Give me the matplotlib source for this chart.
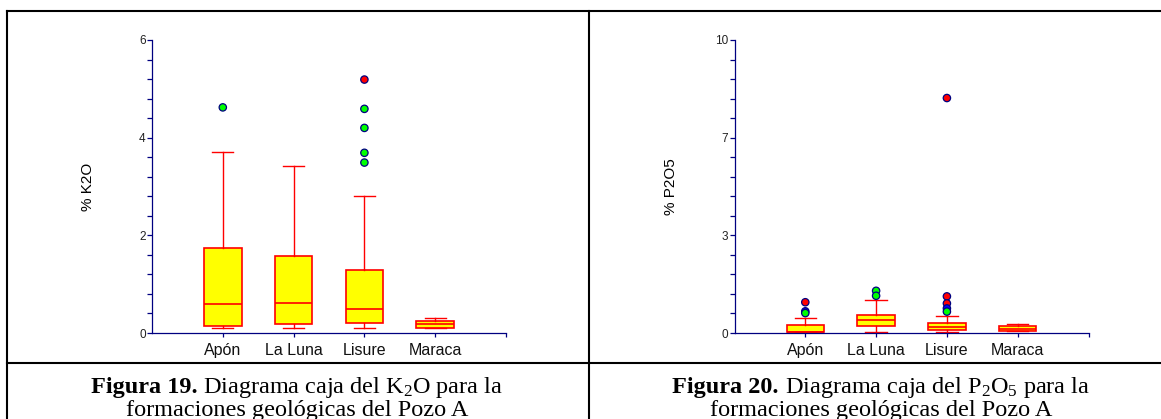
import numpy as np
import matplotlib
matplotlib.use('Agg')
import matplotlib.pyplot as plt
from matplotlib.lines import Line2D
from matplotlib.ticker import FixedLocator, FixedFormatter, MultipleLocator

plt.rcParams['font.family'] = ['Liberation Sans', 'DejaVu Sans']
plt.rcParams['mathtext.fontset'] = 'custom'
plt.rcParams['mathtext.rm'] = 'Liberation Serif'
plt.rcParams['mathtext.it'] = 'Liberation Serif:italic'
plt.rcParams['mathtext.bf'] = 'Liberation Serif:bold'

# Formaciones
formaciones = ['Apón', 'La Luna', 'Lisure', 'Maraca']

# K2O (%) - estadisticos de caja
k2o_q1 = [0.15, 0.18, 0.20, 0.10]
k2o_med = [0.59, 0.61, 0.49, 0.19]
k2o_q3 = [1.74, 1.58, 1.30, 0.25]
k2o_lo = [0.10, 0.10, 0.10, 0.10]
k2o_hi = [3.70, 3.42, 2.81, 0.31]
# valores atipicos: (formacion, valor, color)
k2o_out_pos = [1, 3, 3, 3, 3, 3]
k2o_out_val = [4.62, 5.19, 4.59, 4.20, 3.69, 3.49]
k2o_out_col = ['#00FF00', '#FF0000', '#00FF00', '#00FF00', '#00FF00', '#00FF00']
k2o_ticks = [0, 2, 4, 6]
k2o_ticklabels = ['0', '2', '4', '6']

# P2O5 (%) - estadisticos de caja
p2o5_q1 = [0.02, 0.24, 0.10, 0.08]
p2o5_med = [0.03, 0.43, 0.21, 0.12]
p2o5_q3 = [0.27, 0.63, 0.34, 0.23]
p2o5_lo = [0.02, 0.03, 0.04, 0.08]
p2o5_hi = [0.51, 1.14, 0.58, 0.30]
p2o5_out_pos = [1, 1, 1, 2, 2, 3, 3, 3, 3, 3]
p2o5_out_val = [1.05, 0.74, 0.68, 1.44, 1.27, 8.02, 1.25, 1.01, 0.84, 0.73]
p2o5_out_col = ['#FF0000', '#0000FF', '#00FF00', '#00FF00', '#00FF00',
                '#FF0000', '#FF0000', '#FF0000', '#0000FF', '#00FF00']
p2o5_ticks = [0, 10 / 3, 20 / 3, 10]
p2o5_ticklabels = ['0', '3', '7', '10']

NAVY = '#000080'
W, H = 1161, 419


def px_axes(fig, x0, x1, ytop, ybot):
    return fig.add_axes([x0 / W, (H - ybot) / H, (x1 - x0) / W, (ybot - ytop) / H])


def draw_box(ax, q1, med, q3, lo, hi, out_pos, out_val, out_col,
             ylim, ticks, ticklabels, minor, ylabel):
    stats = []
    for i in range(len(formaciones)):
        stats.append({'q1': q1[i], 'med': med[i], 'q3': q3[i],
                      'whislo': lo[i], 'whishi': hi[i], 'fliers': []})
    ax.bxp(stats, positions=np.arange(1, len(formaciones) + 1), widths=0.53,
           patch_artist=True, showfliers=False, capwidths=0.3,
           boxprops=dict(facecolor='#FFFF00', edgecolor='#FF0000', linewidth=1.2),
           medianprops=dict(color='#FF0000', linewidth=1.2),
           whiskerprops=dict(color='#FF0000', linewidth=1.0),
           capprops=dict(color='#FF0000', linewidth=1.0))
    ax.scatter(out_pos, out_val, s=28, c=out_col, edgecolors=NAVY,
               linewidths=0.9, zorder=5)
    ax.set_xlim(0, 5)
    ax.set_ylim(ylim)
    ax.set_xticks([1, 2, 3, 4, 5])
    ax.set_xticklabels(formaciones + [''], fontsize=11.5)
    ax.yaxis.set_major_locator(FixedLocator(ticks))
    ax.yaxis.set_major_formatter(FixedFormatter(ticklabels))
    ax.yaxis.set_minor_locator(MultipleLocator(minor))
    ax.set_ylabel(ylabel, fontsize=11)
    ax.yaxis.set_label_coords(-0.16, 0.5)
    for s in ['top', 'right']:
        ax.spines[s].set_visible(False)
    for s in ['left', 'bottom']:
        ax.spines[s].set_color(NAVY)
        ax.spines[s].set_linewidth(0.9)
    ax.tick_params(axis='y', which='both', colors=NAVY, length=3.5, width=0.9,
                   labelcolor='#222222', labelsize=8.5, pad=1)
    ax.tick_params(axis='x', colors=NAVY, length=3, width=0.9,
                   labelcolor='#111111', pad=4)
    ax.set_facecolor('none')


fig = plt.figure(figsize=(W / 100, H / 100), dpi=100)

ax1 = px_axes(fig, 152, 506, 40, 333)
draw_box(ax1, k2o_q1, k2o_med, k2o_q3, k2o_lo, k2o_hi,
         k2o_out_pos, k2o_out_val, k2o_out_col,
         (0, 6), k2o_ticks, k2o_ticklabels, 0.4, '% K2O')

ax2 = px_axes(fig, 734.5, 1088.5, 40, 333)
draw_box(ax2, p2o5_q1, p2o5_med, p2o5_q3, p2o5_lo, p2o5_hi,
         p2o5_out_pos, p2o5_out_val, p2o5_out_col,
         (0, 10), p2o5_ticks, p2o5_ticklabels, 2 / 3, '% P2O5')

# lineas de la tabla
lw = 1.5
for (xa, xb, ya, yb) in [(7, W, 11.5, 11.5), (7, 7, 11.5, H), (589, 589, 11.5, H),
                         (7, W, 363, 363)]:
    fig.add_artist(Line2D([xa / W, xb / W], [1 - ya / H, 1 - yb / H],
                          transform=fig.transFigure, color='black', linewidth=lw))

# leyendas de figura (parte en negrita + parte normal, centradas juntas)
CAP_SIZE = 17.5
renderer = fig.canvas.get_renderer()


def caption(xc, y_base, bold, rest):
    kw = dict(va='baseline', fontsize=CAP_SIZE, family='Liberation Serif')
    t1 = fig.text(0, 1 - y_base / H, bold, fontweight='bold', ha='left', **kw)
    t2 = fig.text(0, 1 - y_base / H, rest, ha='left', **kw)
    w1 = t1.get_window_extent(renderer).width
    w2 = t2.get_window_extent(renderer).width
    x0 = xc - (w1 + w2) / 2
    t1.set_x(x0 / W)
    t2.set_x((x0 + w1) / W)


caption(297, 393, 'Figura 19.', ' Diagrama caja del K$_2$O para la')
fig.text(297 / W, 1 - 416 / H, 'formaciones geológicas del Pozo A',
         ha='center', va='baseline', fontsize=CAP_SIZE, family='Liberation Serif')
caption(881, 393, 'Figura 20.', ' Diagrama caja del P$_2$O$_5$ para la')
fig.text(881 / W, 1 - 416 / H, 'formaciones geológicas del Pozo A',
         ha='center', va='baseline', fontsize=CAP_SIZE, family='Liberation Serif')

fig.savefig('out.png', dpi=100, facecolor='white')
